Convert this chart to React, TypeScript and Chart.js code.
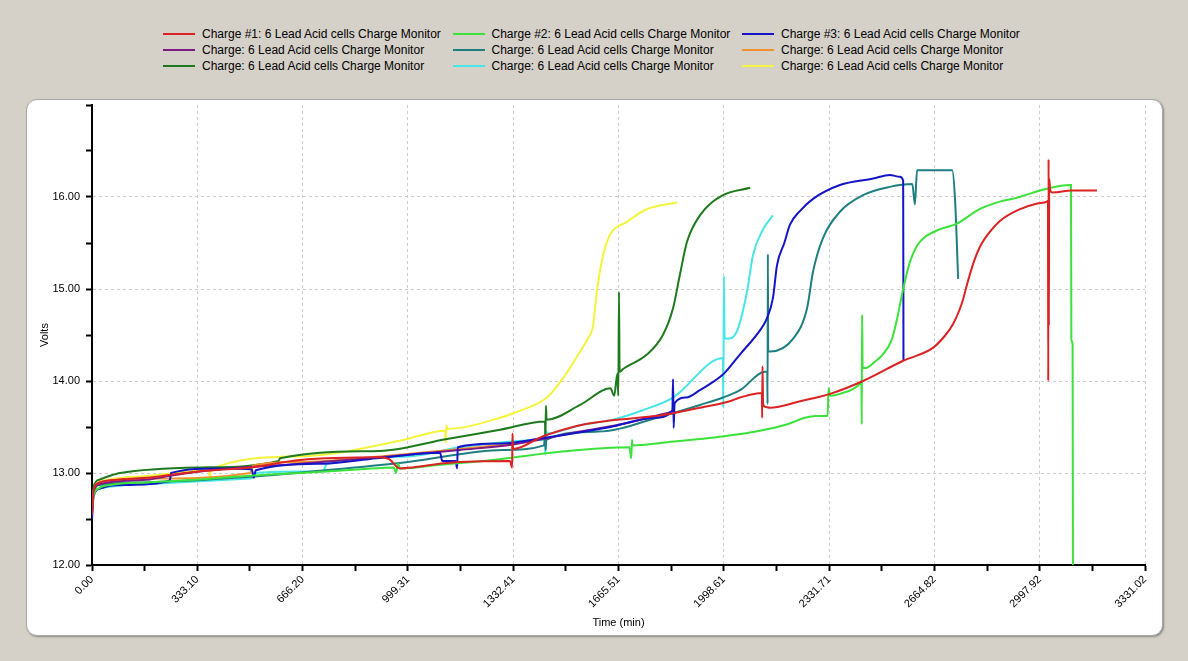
import { useEffect, useRef } from 'react';
import { Chart, registerables } from 'chart.js';

Chart.register(...registerables);

const seriesLabels = [
  'Charge #1: 6 Lead Acid cells Charge Monitor',
  'Charge #2: 6 Lead Acid cells Charge Monitor',
  'Charge #3: 6 Lead Acid cells Charge Monitor',
  'Charge: 6 Lead Acid cells Charge Monitor',
  'Charge: 6 Lead Acid cells Charge Monitor',
  'Charge: 6 Lead Acid cells Charge Monitor',
  'Charge: 6 Lead Acid cells Charge Monitor',
  'Charge: 6 Lead Acid cells Charge Monitor',
  'Charge: 6 Lead Acid cells Charge Monitor',
];

const seriesColors = [
  '#dc2323', '#3ae23a', '#1414c8',
  '#7d1a86', '#1f7f80', '#f5902e',
  '#1d7a1d', '#46e6e6', '#f4f43c',
];

// [time (min), volts]
const charge1: [number, number][] = [
  [0, 12.55], [5, 12.8], [15, 12.88], [57, 12.92], [183, 12.95], [342, 13.02], [500, 13.06],
  [658, 13.14], [911, 13.17], [940, 13.15], [974, 13.05], [1015, 13.06], [1123, 13.11],
  [1322, 13.13], [1329, 13.06], [1330, 13.43], [1332, 13.26], [1427, 13.4], [1544, 13.52],
  [1639, 13.57], [1806, 13.63], [1923, 13.71], [2018, 13.78], [2050, 13.82], [2119, 13.87],
  [2120, 13.6], [2121, 14.16], [2123, 13.75], [2129, 13.72], [2145, 13.71], [2240, 13.78],
  [2335, 13.86], [2439, 14.0], [2566, 14.22], [2660, 14.36], [2700, 14.5], [2724, 14.62],
  [2745, 14.78], [2755, 14.88], [2768, 15.05], [2790, 15.3], [2809, 15.46], [2840, 15.62],
  [2872, 15.74], [2930, 15.86], [2990, 15.93], [3021, 15.95], [3024, 15.96], [3025, 14.0],
  [3026, 16.41], [3027, 14.6], [3028, 16.2], [3031, 16.08], [3037, 16.05], [3100, 16.07],
  [3179, 16.07],
];

const charge2: [number, number][] = [
  [0, 12.6], [5, 12.75], [20, 12.83], [57, 12.87], [183, 12.9], [342, 12.93], [500, 12.97],
  [658, 13.0], [850, 13.04], [955, 13.06], [962, 13.0], [968, 13.1], [975, 13.05],
  [1101, 13.09], [1291, 13.15], [1480, 13.23], [1700, 13.28], [1706, 13.16], [1708, 13.36],
  [1710, 13.3], [1806, 13.33], [1999, 13.4], [2113, 13.46], [2200, 13.53], [2255, 13.6],
  [2290, 13.62], [2327, 13.62], [2330, 13.92], [2335, 13.84], [2366, 13.86], [2429, 13.97],
  [2434, 14.0], [2435, 13.53], [2436, 14.72], [2438, 14.14], [2445, 14.14], [2480, 14.22],
  [2502, 14.29], [2530, 14.45], [2547, 14.68], [2566, 15.0], [2588, 15.3], [2610, 15.47],
  [2629, 15.55], [2683, 15.65], [2736, 15.71], [2809, 15.87], [2872, 15.95], [2913, 15.98],
  [3021, 16.09], [3094, 16.13], [3097, 16.13], [3098, 14.45], [3102, 14.4], [3103, 11.9],
];

const charge3: [number, number][] = [
  [0, 12.5], [5, 12.75], [25, 12.83], [57, 12.86], [120, 12.87], [183, 12.88], [240, 12.91],
  [247, 12.93], [250, 13.0], [405, 13.05], [505, 13.04], [512, 12.95], [518, 13.03],
  [731, 13.1], [900, 13.16], [1101, 13.22], [1108, 13.13], [1150, 13.13], [1155, 13.05],
  [1157, 13.28], [1291, 13.32], [1427, 13.38], [1640, 13.5], [1780, 13.6], [1836, 13.68],
  [1838, 14.02], [1840, 13.49], [1843, 13.76], [1880, 13.82], [1923, 13.9], [1960, 13.98],
  [1999, 14.08], [2050, 14.29], [2113, 14.55], [2135, 14.68], [2154, 14.9], [2167, 15.26],
  [2190, 15.5], [2208, 15.7], [2240, 15.85], [2281, 15.98], [2366, 16.13], [2471, 16.2],
  [2524, 16.24], [2555, 16.22], [2566, 16.18], [2567, 14.22],
];

const charge4: [number, number][] = [
  [0, 12.6], [5, 12.8], [25, 12.88], [183, 12.93], [247, 12.97], [405, 13.04], [658, 13.1],
  [911, 13.17], [1164, 13.25], [1332, 13.31], [1544, 13.45], [1700, 13.55], [1829, 13.66],
];

const charge5: [number, number][] = [
  [0, 12.6], [5, 12.8], [25, 12.87], [183, 12.9], [500, 12.96], [800, 13.05], [1000, 13.12],
  [1300, 13.25], [1430, 13.3], [1433, 13.42], [1435, 13.25], [1437, 13.36], [1600, 13.45],
  [1806, 13.62], [1923, 13.74], [1996, 13.82], [2050, 13.9], [2129, 14.1], [2136, 14.1],
  [2137, 13.75], [2138, 15.38], [2139, 14.32], [2145, 14.32], [2218, 14.46], [2262, 14.79],
  [2281, 15.19], [2312, 15.55], [2366, 15.84], [2439, 16.02], [2524, 16.11], [2595, 16.14],
  [2603, 15.92], [2610, 16.29], [2721, 16.29], [2730, 15.98], [2740, 15.11],
];

const charge6: [number, number][] = [
  [0, 12.6], [5, 12.8], [25, 12.9], [183, 12.94], [500, 13.0], [509, 13.08], [658, 13.12],
  [911, 13.18], [1164, 13.26], [1329, 13.32],
];

const charge7: [number, number][] = [
  [0, 12.6], [5, 12.85], [25, 12.93], [57, 12.97], [89, 13.0], [342, 13.06], [590, 13.13],
  [595, 13.16], [911, 13.24], [1123, 13.37], [1291, 13.47], [1433, 13.56], [1434, 13.35],
  [1436, 13.73], [1438, 13.58], [1544, 13.74], [1640, 13.92], [1652, 13.84], [1662, 14.08],
  [1665, 13.84], [1667, 14.97], [1669, 14.1], [1680, 14.13], [1756, 14.29], [1806, 14.5],
  [1838, 14.79], [1860, 15.16], [1882, 15.51], [1923, 15.8], [1996, 16.02], [2082, 16.1],
];

const charge8: [number, number][] = [
  [0, 12.55], [5, 12.75], [25, 12.83], [183, 12.88], [500, 12.94], [509, 12.95], [512, 13.0],
  [731, 13.02], [743, 13.1], [1000, 13.18], [1164, 13.28], [1420, 13.36], [1433, 13.36],
  [1434, 13.2], [1436, 13.46], [1440, 13.43], [1544, 13.52], [1648, 13.58], [1740, 13.68],
  [1838, 13.82], [1996, 14.25], [1997, 13.71], [1999, 15.14], [2001, 14.47], [2009, 14.46],
  [2040, 14.54], [2072, 14.97], [2091, 15.37], [2123, 15.65], [2154, 15.8],
];

const charge9: [number, number][] = [
  [0, 12.6], [5, 12.8], [25, 12.9], [57, 12.93], [183, 12.97], [342, 13.03], [370, 13.04],
  [373, 12.94], [376, 13.04], [658, 13.18], [974, 13.35], [1117, 13.46], [1119, 13.33],
  [1121, 13.52], [1124, 13.48], [1291, 13.6], [1332, 13.65], [1439, 13.82], [1490, 14.03],
  [1544, 14.32], [1570, 14.47], [1585, 14.6], [1597, 14.97], [1617, 15.37], [1639, 15.59],
  [1692, 15.73], [1756, 15.87], [1851, 15.94],
];

const seriesData = [charge1, charge2, charge3, charge4, charge5, charge6, charge7, charge8, charge9];

const xTickValues = [0, 333.10, 666.20, 999.31, 1332.41, 1665.51, 1998.61, 2331.71, 2664.82, 2997.92, 3331.02];
const xTickLabels = ['0.00', '333.10', '666.20', '999.31', '1332.41', '1665.51', '1998.61', '2331.71', '2664.82', '2997.92', '3331.02'];

const FONT = '"Liberation Sans", Arial, sans-serif';

export default function App() {
  const canvasRef = useRef<HTMLCanvasElement>(null);
  const chartRef = useRef<Chart | null>(null);

  useEffect(() => {
    if (!canvasRef.current) return;
    if (chartRef.current) chartRef.current.destroy();

    // major ticks plus a minor tick halfway between each pair
    const xAllTicks: number[] = [];
    xTickValues.forEach((v, i) => {
      xAllTicks.push(v);
      if (i < xTickValues.length - 1) xAllTicks.push((v + xTickValues[i + 1]) / 2);
    });

    const tickFont = { family: FONT, size: 11 };

    chartRef.current = new Chart(canvasRef.current, {
      type: 'line',
      data: {
        datasets: seriesData.map((points, i) => ({
          label: seriesLabels[i],
          data: points.map(([x, y]) => ({ x, y })),
          borderColor: seriesColors[i],
          backgroundColor: seriesColors[i],
          borderWidth: 2,
          pointRadius: 0,
          cubicInterpolationMode: 'monotone' as const,
          fill: false,
        })),
      },
      options: {
        animation: false,
        responsive: true,
        maintainAspectRatio: false,
        layout: { padding: { top: 6, left: 8, right: 18, bottom: 0 } },
        plugins: {
          legend: { display: false },
          tooltip: { enabled: false },
        },
        scales: {
          x: {
            type: 'linear',
            min: 0,
            max: 3331.02,
            afterBuildTicks: (scale: any) => {
              scale.ticks = xAllTicks.map((value) => ({ value }));
            },
            afterFit: (scale: any) => {
              scale.height = 71;
              scale.paddingLeft = 0;
              scale.paddingRight = 0;
            },
            ticks: {
              autoSkip: false,
              minRotation: 45,
              maxRotation: 45,
              padding: 2,
              color: '#000',
              font: tickFont,
              callback: (value: any) => {
                const i = xTickValues.indexOf(Number(value));
                return i >= 0 ? xTickLabels[i] : '';
              },
            },
            grid: {
              color: (c: any) => (c.tick && xTickValues.includes(c.tick.value) ? '#cccccc' : 'transparent'),
              lineWidth: 1,
              tickColor: '#000',
              tickWidth: 2,
              tickLength: 6,
            },
            border: { display: true, color: '#000', width: 2, dash: [3, 3] },
            title: {
              display: true,
              text: 'Time (min)',
              color: '#000',
              font: { family: FONT, size: 11 },
              padding: { top: 0, bottom: 6 },
            },
          },
          y: {
            min: 12,
            max: 17,
            afterFit: (scale: any) => {
              scale.width = 58;
              scale.paddingTop = 0;
              scale.paddingBottom = 0;
            },
            ticks: {
              stepSize: 0.5,
              padding: 6,
              color: '#000',
              font: tickFont,
              callback: (value: any) => {
                const v = Number(value);
                return Number.isInteger(v) && v < 17 ? v.toFixed(2) : '';
              },
            },
            grid: {
              color: (c: any) =>
                c.tick && Number.isInteger(c.tick.value) && c.tick.value < 17 ? '#cccccc' : 'transparent',
              lineWidth: 1,
              tickColor: '#000',
              tickWidth: 2,
              tickLength: 6,
            },
            border: { display: true, color: '#000', width: 2, dash: [3, 3] },
            title: {
              display: true,
              text: 'Volts',
              color: '#000',
              font: { family: FONT, size: 11 },
              padding: { top: 4, bottom: 0 },
            },
          },
        },
      },
    });

    return () => {
      if (chartRef.current) {
        chartRef.current.destroy();
        chartRef.current = null;
      }
    };
  }, []);

  return (
    <div
      style={{
        position: 'absolute',
        left: 0,
        top: 0,
        width: 1188,
        height: 661,
        background: '#d5d1c9',
        overflow: 'hidden',
      }}
    >
      <div
        style={{
          position: 'absolute',
          left: 163,
          top: 26,
          display: 'grid',
          gridTemplateColumns: 'repeat(3, 289.5px)',
          gridAutoRows: '16px',
        }}
      >
        {seriesLabels.map((label, i) => (
          <div key={i} style={{ display: 'flex', alignItems: 'center', height: 16 }}>
            <span style={{ display: 'inline-block', width: 32, height: 2, background: seriesColors[i], marginRight: 7 }} />
            <span style={{ font: `12px ${FONT}`, color: '#000', whiteSpace: 'nowrap' }}>{label}</span>
          </div>
        ))}
      </div>
      <div
        style={{
          position: 'absolute',
          left: 26,
          top: 99,
          width: 1137,
          height: 537,
          boxSizing: 'border-box',
          background: '#fff',
          border: '1px solid #a9a9a9',
          borderRadius: 11,
          boxShadow: '1px 1px 2px rgba(0,0,0,0.35)',
        }}
      />
      <div style={{ position: 'absolute', left: 26, top: 99, width: 1137, height: 537 }}>
        <canvas ref={canvasRef} />
      </div>
    </div>
  );
}
